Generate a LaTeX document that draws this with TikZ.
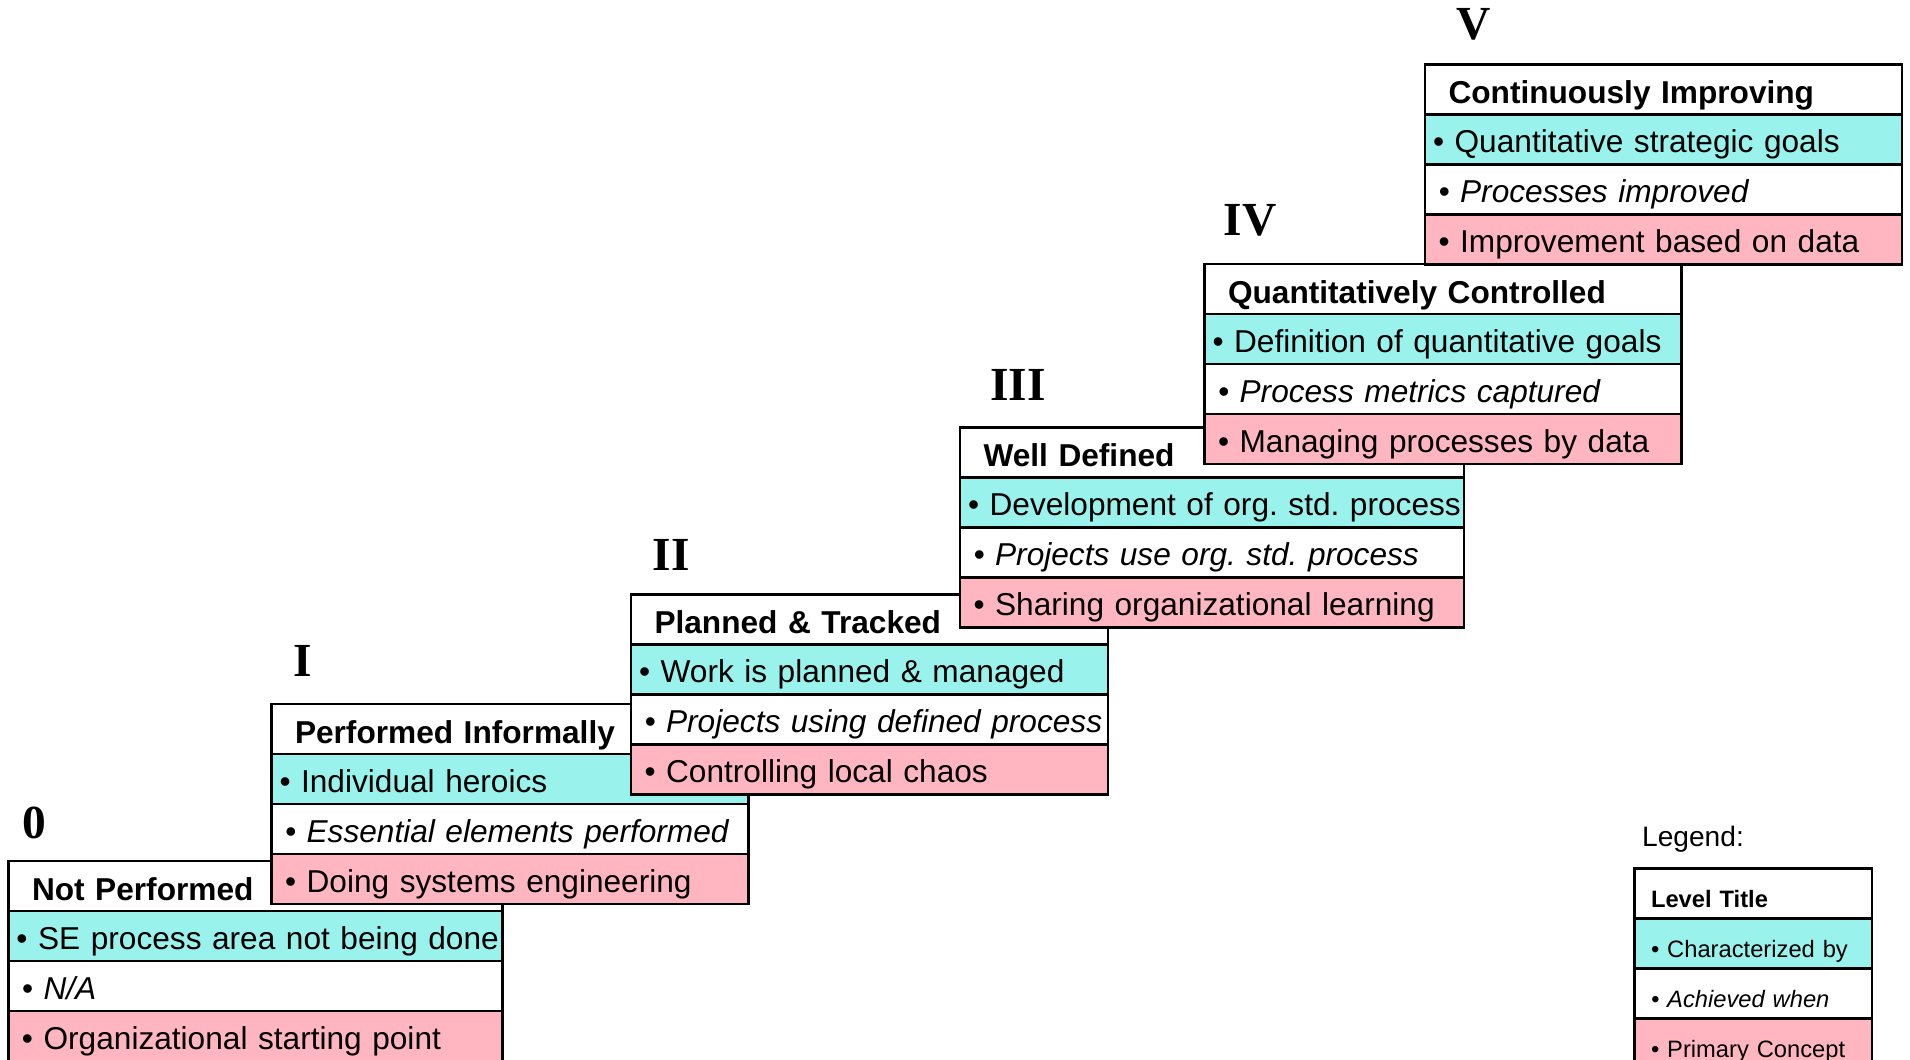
\documentclass[tikz,border=0pt]{standalone}
\usepackage{fontspec}
\setmainfont{Liberation Sans}
\newfontfamily\romfont{Liberation Serif}
\usetikzlibrary{positioning}
\frenchspacing

\definecolor{charcol}{RGB}{153,243,236}
\definecolor{primcol}{RGB}{255,182,193}

\tikzset{
  row/.style={draw, line width=1.3pt, outer sep=0pt, minimum height=1cm, inner ysep=0pt,
    align=left, anchor=north west, text height=15pt, text depth=0pt,
    execute at begin node=\hbox\bgroup, execute at end node=\egroup,
    font=\fontsize{18}{20}\selectfont},
  ttl/.style={row, fill=white, inner xsep=.47cm, text width=#1cm-.94cm,
    text height=16pt, font=\fontsize{18}{20}\selectfont\bfseries},
  chr/.style={row, fill=charcol, inner xsep=.16cm, text width=#1cm-.32cm},
  ach/.style={row, fill=white, inner xsep=.27cm, text width=#1cm-.54cm,
    font=\fontsize{18}{20}\selectfont\itshape},
  pri/.style={row, fill=primcol, inner xsep=.27cm, text width=#1cm-.54cm},
  lrow/.style={row, inner xsep=.33cm, text width=#1cm-.66cm, text height=16pt,
    font=\fontsize{13.5}{15}\selectfont},
  lvl/.style={font=\fontsize{27}{30}\selectfont\romfont\bfseries}
}

\begin{document}
\begin{tikzpicture}
	\useasboundingbox (0,0) rectangle (38.2,-21.2);
	% level 0
	\node[lvl] (n0) at (0.68,-16.46) {0};
	\node[ttl=9.88] (l0t) at (0.17,-17.22) {Not Performed};
	\node[chr=9.88, below=0pt of l0t] (l0c) {• SE process area not being done};
	\node[ach=9.88, below=0pt of l0c] (l0a) {• N/A};
	\node[pri=9.88, below=0pt of l0a] (l0p) {• Organizational starting point};
	% level I
	\node[lvl] (n1) at (6.06,-13.22) {I};
	\node[ttl=9.54] (l1t) at (5.43,-14.08) {Performed Informally};
	\node[chr=9.54, below=0pt of l1t] (l1c) {• Individual heroics};
	\node[ach=9.54, below=0pt of l1c] (l1a) {• Essential elements performed};
	\node[pri=9.54, below=0pt of l1a] (l1p) {• Doing systems engineering};
	% level II
	\node[lvl] (n2) at (13.42,-11.10) {II};
	\node[ttl=9.54] (l2t) at (12.62,-11.89) {Planned \& Tracked};
	\node[chr=9.54, below=0pt of l2t] (l2c) {• Work is planned \& managed};
	\node[ach=9.54, below=0pt of l2c] (l2a) {• Projects using defined process};
	\node[pri=9.54, below=0pt of l2a] (l2p) {• Controlling local chaos};
	% level III
	\node[lvl] (n3) at (20.36,-7.70) {III};
	\node[ttl=10.08] (l3t) at (19.20,-8.55) {Well Defined};
	\node[chr=10.08, below=0pt of l3t] (l3c) {• Development of org. std. process};
	\node[ach=10.08, below=0pt of l3c] (l3a) {• Projects use org. std. process};
	\node[pri=10.08, below=0pt of l3a] (l3p) {• Sharing organizational learning};
	% level IV
	\node[lvl] (n4) at (25.00,-4.41) {IV};
	\node[ttl=9.54] (l4t) at (24.09,-5.28) {Quantitatively Controlled};
	\node[chr=9.54, below=0pt of l4t] (l4c) {• Definition of quantitative goals};
	\node[ach=9.54, below=0pt of l4c] (l4a) {• Process metrics captured};
	\node[pri=9.54, below=0pt of l4a] (l4p) {• Managing processes by data};
	% level V
	\node[lvl] (n5) at (29.48,-0.48) {V};
	\node[ttl=9.54] (l5t) at (28.50,-1.29) {Continuously Improving};
	\node[chr=9.54, below=0pt of l5t] (l5c) {• Quantitative strategic goals};
	\node[ach=9.54, below=0pt of l5c] (l5a) {• Processes improved};
	\node[pri=9.54, below=0pt of l5a] (l5p) {• Improvement based on data};
	% legend
	\node[font=\fontsize{16}{18}\selectfont] (lg) at (33.86,-16.78) {Legend:};
	\node[lrow=4.75, fill=white, font=\fontsize{13.5}{15}\selectfont\bfseries] (lgt) at (32.69,-17.37) {Level Title};
	\node[lrow=4.75, fill=charcol, below=0pt of lgt] (lgc) {• Characterized by};
	\node[lrow=4.75, fill=white, font=\fontsize{13.5}{15}\selectfont\itshape, below=0pt of lgc] (lga) {• Achieved when};
	\node[lrow=4.75, fill=primcol, below=0pt of lga] (lgp) {• Primary Concept};
\end{tikzpicture}
\end{document}
